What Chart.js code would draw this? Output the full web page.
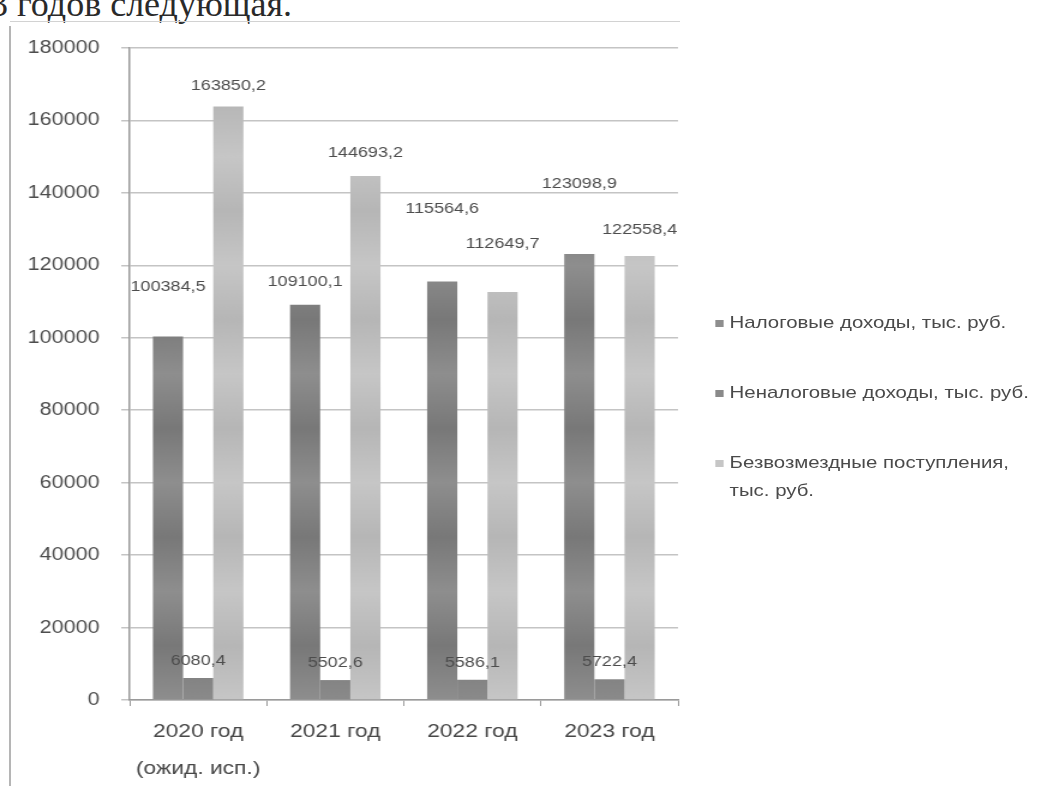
<!DOCTYPE html>
<html lang="ru">
<head>
<meta charset="UTF-8">
<title>Доходы бюджета 2020-2023</title>
<script src="https://cdn.jsdelivr.net/npm/chart.js"></script>
<style>
  html, body { margin: 0; padding: 0; background: #fff; overflow: hidden; }
  #head { position: absolute; left: -10px; top: -14px; font-family: "Liberation Serif", serif; font-size: 36px; line-height: 1; color: #2a2a2a; white-space: nowrap; }
  #frameLeft { position: absolute; left: 9px; top: 26px; width: 2px; height: 760px; background: #b5b5b5; }
  #frameTop { position: absolute; left: 10px; top: 21px; width: 670px; height: 1px; background: #d2d2d2; }
  /* the scan is stretched horizontally, so the whole chart is drawn narrower and widened */
  #stage { position: absolute; left: 0; top: 0; width: 876px; height: 786px; transform: scaleX(1.2); transform-origin: 0 0; }
  #chartBox { position: absolute; left: 0; top: 0; width: 876px; height: 786px; }
  #legend { position: absolute; left: 596px; top: 309px; font-family: "Liberation Sans", sans-serif; font-size: 17px; color: #4a4a4a; }
  .item { position: relative; padding-left: 12px; margin-bottom: 42px; line-height: 28px; }
  .item i { position: absolute; left: 0; top: 11px; width: 7px; height: 7px; }
</style>
</head>
<body>
  <div id="head">3 годов следующая.</div>
  <div id="frameLeft"></div>
  <div id="frameTop"></div>
  <div id="stage">
    <div id="chartBox"><canvas id="incomeChart"></canvas></div>
    <div id="legend"></div>
  </div>

<script>
  // values
  const years = [['2020 год', '(ожид. исп.)'], '2021 год', '2022 год', '2023 год'];
  const taxIncome = [100384.5, 109100.1, 115564.6, 123098.9];
  const nonTaxIncome = [6080.4, 5502.6, 5586.1, 5722.4];
  const grants = [163850.2, 144693.2, 112649.7, 122558.4];
  const seriesNames = ['Налоговые доходы, тыс. руб.', 'Неналоговые доходы, тыс. руб.', 'Безвозмездные поступления, тыс. руб.'];
  const yMax = 180000;
  const yStep = 20000;

  // how high each value label sits above its bar (labels were moved by hand in the original)
  const labelLift = [[50, 23, 73, 70], [17, 17, 17, 17], [21, 23, 48, 26]];

  const baseColors = ['#8e8e8e', '#8a8a8a', '#c6c6c6'];
  const spotColors = ['#787878', '#7a7a7a', '#b6b6b6'];

  // mottled vertical fill, like the scanned texture
  function mottled(i) {
    return function (ctx) {
      const chart = ctx.chart;
      const area = chart.chartArea;
      if (!area) return baseColors[i];
      const g = chart.ctx.createLinearGradient(0, area.bottom, 0, area.top);
      for (let k = 0; k <= 12; k++) {
        g.addColorStop(k / 12, k % 2 ? spotColors[i] : baseColors[i]);
      }
      return g;
    };
  }

  const fmt = v => v.toFixed(1).replace('.', ',');

  const valueLabels = {
    id: 'valueLabels',
    afterDatasetsDraw(chart) {
      const ctx = chart.ctx;
      ctx.save();
      ctx.font = '15px "Liberation Sans", sans-serif';
      ctx.fillStyle = '#4d4d4d';
      ctx.textAlign = 'center';
      ctx.textBaseline = 'middle';
      chart.data.datasets.forEach((ds, i) => {
        chart.getDatasetMeta(i).data.forEach((bar, j) => {
          ctx.fillText(fmt(ds.data[j]), bar.x, bar.y - labelLift[i][j]);
        });
      });
      ctx.restore();
    }
  };

  const chart = new Chart(document.getElementById('incomeChart'), {
    type: 'bar',
    data: {
      labels: years,
      datasets: [
        { label: seriesNames[0], data: taxIncome, backgroundColor: mottled(0) },
        { label: seriesNames[1], data: nonTaxIncome, backgroundColor: mottled(1) },
        { label: seriesNames[2], data: grants, backgroundColor: mottled(2) }
      ]
    },
    options: {
      responsive: true,
      maintainAspectRatio: false,
      animation: false,
      datasets: { bar: { categoryPercentage: 0.66, barPercentage: 1 } },
      layout: { padding: { left: 0, right: 311, top: 48, bottom: 0 } },
      plugins: { legend: { display: false }, tooltip: { enabled: false } },
      scales: {
        x: {
          afterFit: s => { s.height = 86; },
          grid: { drawOnChartArea: false, drawTicks: true, tickLength: 6, offset: true, color: '#9a9a9a' },
          border: { color: '#9a9a9a', width: 1.5 },
          ticks: { color: '#474747', padding: 7, maxRotation: 0, font: { family: '"Liberation Sans", sans-serif', size: 19, lineHeight: 1.95 } }
        },
        y: {
          min: 0,
          max: yMax,
          afterFit: s => { s.width = 108; },
          grid: { color: '#c4c4c4', lineWidth: 1.5, tickLength: 7 },
          border: { color: '#9a9a9a', width: 1.5 },
          ticks: {
            stepSize: yStep,
            padding: 18,
            color: '#4d4d4d',
            font: { family: '"Liberation Sans", sans-serif', size: 18 },
            callback: v => String(v)
          }
        }
      }
    },
    plugins: [valueLabels]
  });

  // legend on the right, as in the picture
  const legend = document.getElementById('legend');
  seriesNames.forEach((name, i) => {
    const row = document.createElement('div');
    row.className = 'item';
    const box = document.createElement('i');
    box.style.background = baseColors[i];
    row.appendChild(box);
    const txt = document.createElement('span');
    txt.textContent = i === 2 ? 'Безвозмездные поступления,' : name;
    row.appendChild(txt);
    if (i === 2) {
      row.appendChild(document.createElement('br'));
      row.appendChild(document.createTextNode('тыс. руб.'));
    }
    legend.appendChild(row);
  });
</script>
</body>
</html>
